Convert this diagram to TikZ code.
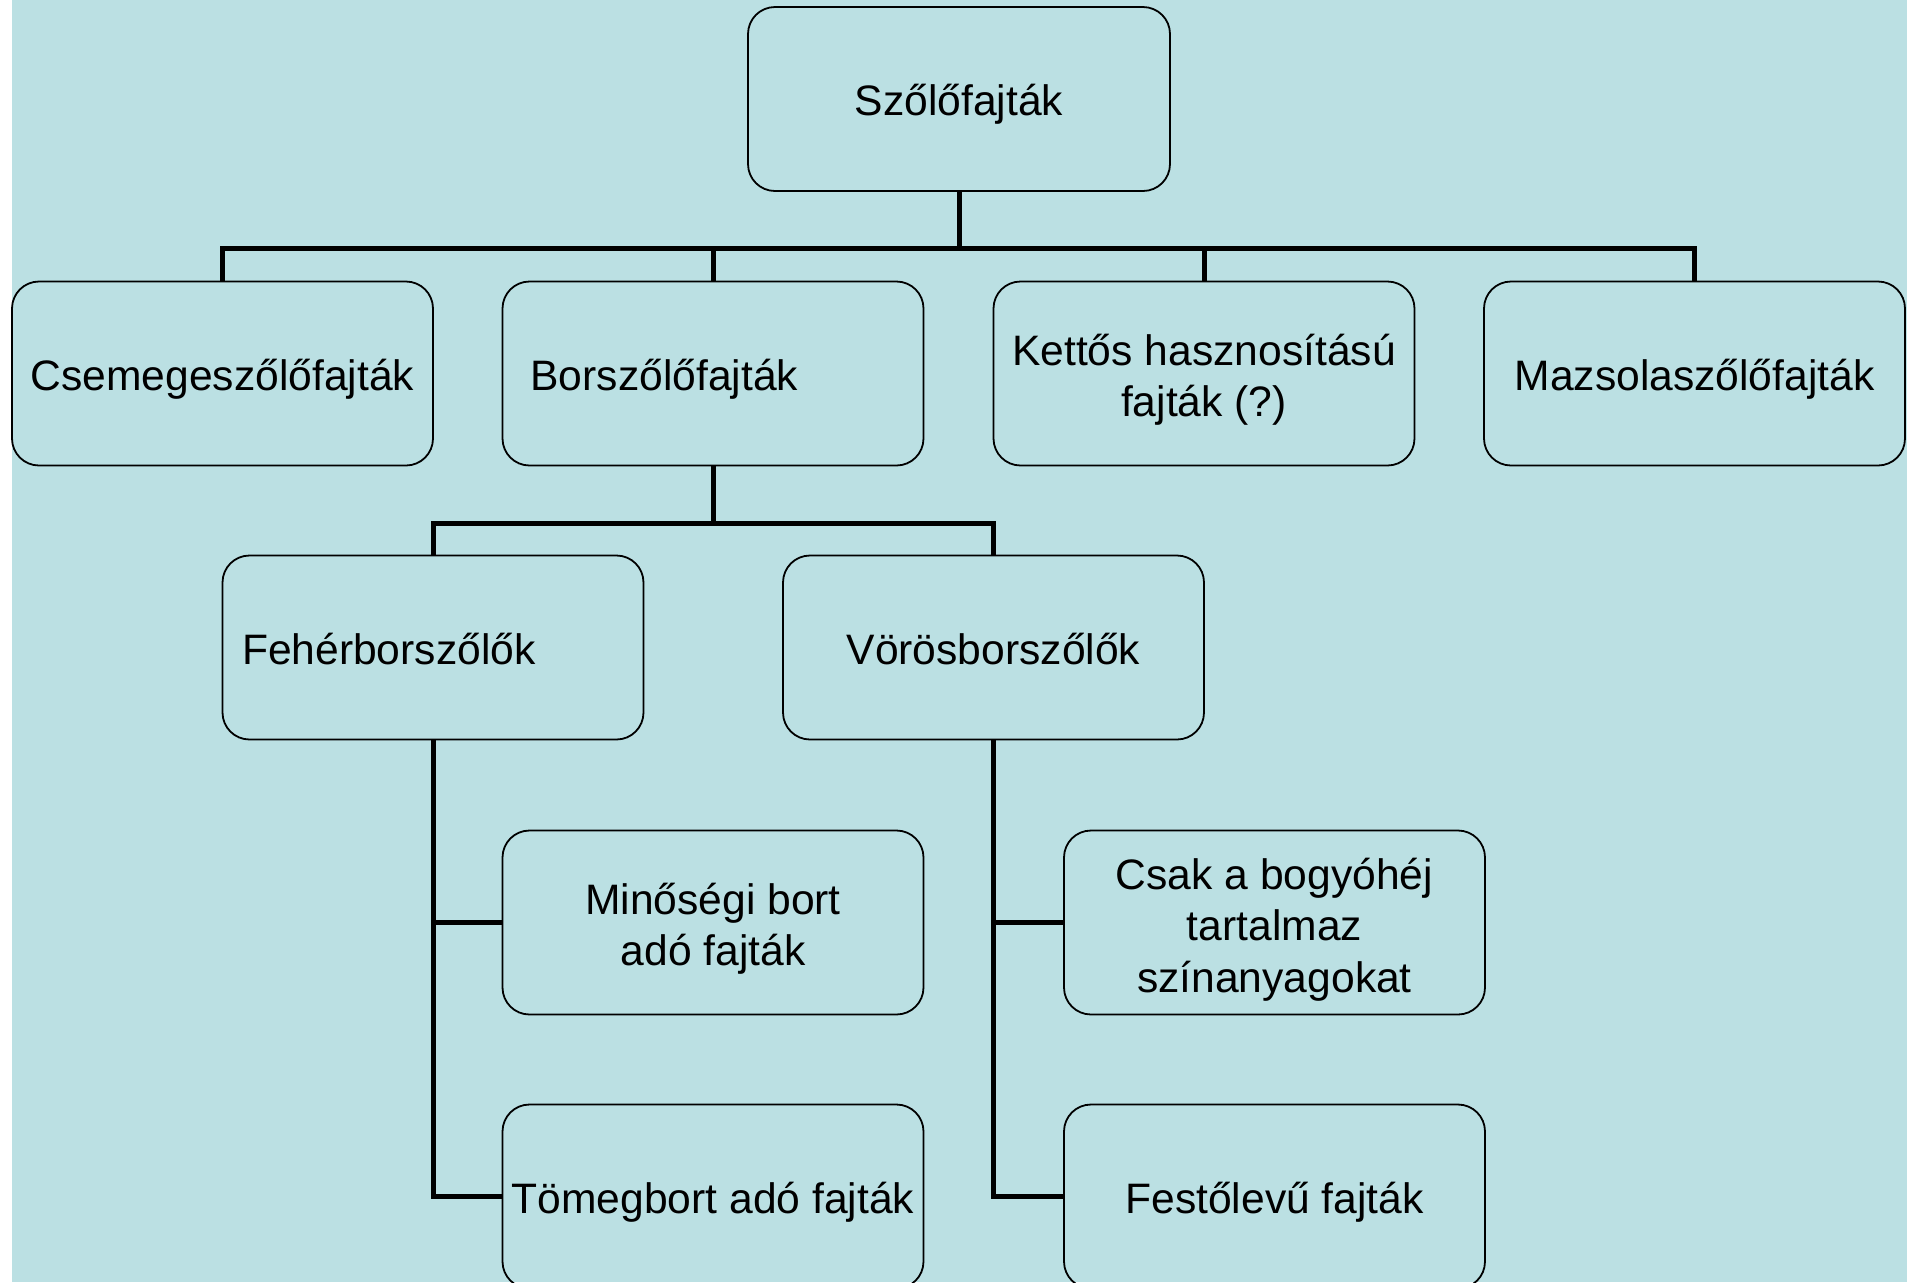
\documentclass[tikz,border=0pt]{standalone}
\usepackage{fontspec}
\setmainfont{Liberation Sans}
\usetikzlibrary{positioning,calc}
\definecolor{hatter}{HTML}{BBE0E3}

\newcommand{\sortam}{\rule[-0.26em]{0pt}{1.3em}}

\tikzset{
	fajta/.style={draw, line width=0.9pt, rounded corners=13.5pt, minimum width=210.5pt, minimum height=92pt, inner sep=0pt, align=center, font=\fontsize{21.3}{25.8}\selectfont, execute at begin node=\sortam, execute at end node=\sortam},
	balfajta/.style={fajta, align=left, text width=#1},
	tobbsor/.style={execute at begin node={\rule{0pt}{#1}}},
	ag/.style={line width=2.5pt}
}

\begin{document}
\begin{tikzpicture}[x=0.5pt,y=-0.5pt]
	\useasboundingbox (0,0) rectangle (1907,1282);
	\clip (0,0) rectangle (1907,1282);
	\fill[hatter] (12,0) rectangle (1907,1282);

	% gyoker
	\node[fajta, minimum width=211pt] (szolo) at (959,99) {Szőlőfajták};
	% elso sor
	\node[fajta] (csemege) at (222.5,373.5) {Csemegeszőlőfajták};
	\node[balfajta=182.5pt, inner xsep=14pt] (bor) at (713,373.5) {Borszőlőfajták};
	\node[fajta, tobbsor=48.7pt] (kettos) at (1204,373.5) {Kettős hasznosítású\\fajták (?)};
	\node[fajta] (mazsola) at (1694.5,373.5) {Mazsolaszőlőfajták};
	% masodik sor
	\node[balfajta=191pt, inner xsep=9.75pt] (feher) at (433,647.5) {Fehérborszőlők};
	\node[fajta] (voros) at (993.5,647.5) {Vörösborszőlők};
	% harmadik es negyedik sor
	\node[fajta, tobbsor=48.7pt] (minoseg) at (713,922.5) {Minőségi bort\\ adó fajták};
	\node[fajta, tobbsor=75.5pt] (csak) at (1274.5,922.5) {Csak a bogyóhéj\\tartalmaz\\ színanyagokat};
	\node[fajta] (tomeg) at (713,1196.5) {Tömegbort adó fajták};
	\node[fajta] (festo) at (1274.5,1196.5) {Festőlevű fajták};

	\coordinate (sin1) at (959,248);
	\coordinate (sin2) at (713,523);

	\draw[ag] (szolo.south) -- (sin1);
	\foreach \n in {csemege,bor,kettos,mazsola}
		\draw[ag] (\n.north) |- (sin1);
	\draw[ag] (bor.south) -- (sin2);
	\draw[ag] (feher.north) |- (sin2);
	\draw[ag] (voros.north) |- (sin2);
	\draw[ag] (feher.south) |- (minoseg.west);
	\draw[ag] (feher.south) |- (tomeg.west);
	\draw[ag] (voros.south) |- (csak.west);
	\draw[ag] (voros.south) |- (festo.west);
\end{tikzpicture}
\end{document}
